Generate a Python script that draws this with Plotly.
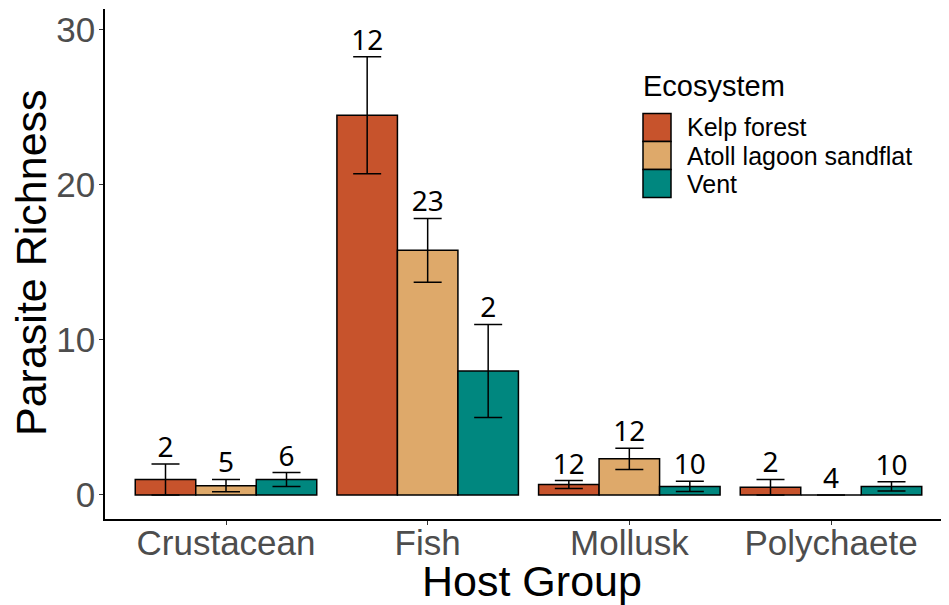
import plotly.graph_objects as go

host_groups = ["Crustacean", "Fish", "Mollusk", "Polychaete"]
ecosystems = ["Kelp forest", "Atoll lagoon sandflat", "Vent"]
colors = ["#C7532C", "#DEA96A", "#00877F"]

mean_kelp = [1.0, 24.5, 0.67, 0.5]
mean_atoll = [0.6, 15.78, 2.33, 0.0]
mean_vent = [1.0, 8.0, 0.55, 0.55]
se_kelp = [1.0, 3.77, 0.26, 0.5]
se_atoll = [0.4, 2.06, 0.68, 0.0]
se_vent = [0.45, 3.0, 0.33, 0.3]
n_kelp = [2, 12, 12, 2]
n_atoll = [5, 23, 12, 4]
n_vent = [6, 2, 10, 10]

means = [mean_kelp, mean_atoll, mean_vent]
ses = [se_kelp, se_atoll, se_vent]
ns = [n_kelp, n_atoll, n_vent]
offsets = [-0.3, 0.0, 0.3]

fig = go.Figure()
for k in range(3):
    xs = [i + offsets[k] for i in range(len(host_groups))]
    fig.add_trace(go.Bar(
        x=xs, y=means[k], width=0.3, name=ecosystems[k],
        marker=dict(color=colors[k], line=dict(color="black", width=1.5)),
        error_y=dict(type="data", array=ses[k], visible=True, color="black",
                     thickness=1.5, width=14),
        showlegend=False,
    ))
for k in range(3):
    xs = [i + offsets[k] for i in range(len(host_groups))]
    tops = [m + s for m, s in zip(means[k], ses[k])]
    fig.add_trace(go.Scatter(
        x=xs, y=tops, mode="text", text=[str(v) for v in ns[k]],
        textposition="top center",
        textfont=dict(family="Noto Sans", size=28, color="black"),
        showlegend=False, hoverinfo="skip",
    ))

OFF_X, OFF_Y = 6, 7
W, H = 947, 598
L, R, T, B = 97, 3, 1, 87
pw, ph = W - L - R, H - T - B

def px(x):
    return (x - OFF_X - L) / pw

def py(y):
    return (H - B - (y - OFF_Y)) / ph

shapes = []
annotations = [
    dict(x=px(639), y=py(84.5), xref="paper", yref="paper", text="Ecosystem",
         showarrow=False, xanchor="left", yanchor="middle",
         font=dict(family="Liberation Sans", size=29, color="black")),
    dict(x=px(530), y=py(580), xref="paper", yref="paper", text="Host Group",
         showarrow=False, xanchor="center", yanchor="middle",
         font=dict(family="Liberation Sans", size=43, color="black")),
    dict(x=px(29), y=py(262), xref="paper", yref="paper", text="Parasite Richness",
         showarrow=False, xanchor="center", yanchor="middle", textangle=-90,
         font=dict(family="Liberation Sans", size=43, color="black")),
]
row_top = 112.5
row_h = 28
for k in range(3):
    y0 = row_top + k * row_h
    shapes.append(dict(type="rect", xref="paper", yref="paper",
                       x0=px(641), x1=px(669), y0=py(y0), y1=py(y0 + row_h),
                       fillcolor=colors[k], line=dict(color="black", width=1.5)))
    annotations.append(dict(x=px(683), y=py(y0 + row_h / 2), xref="paper", yref="paper",
                            text=ecosystems[k], showarrow=False, xanchor="left",
                            yanchor="middle",
                            font=dict(family="Liberation Sans", size=25, color="black")))

fig.update_layout(
    width=W, height=H,
    margin=dict(l=L, r=R, t=T, b=B, autoexpand=False),
    plot_bgcolor="white", paper_bgcolor="white",
    barmode="overlay",
    shapes=shapes, annotations=annotations,
    font=dict(family="Liberation Sans"),
)
fig.update_xaxes(
    range=[-0.6, 3.6], tickvals=list(range(len(host_groups))), ticktext=host_groups,
    showline=True, linecolor="black", linewidth=1.5, showgrid=False, zeroline=False,
    ticks="outside", ticklen=4, tickcolor="#333333", tickwidth=1, automargin=False,
    ticklabelstandoff=-12,
    tickfont=dict(family="Liberation Sans", size=35, color="#4D4D4D"),
)
fig.update_yaxes(
    range=[-1.55, 31.35], tickvals=[0, 10, 20, 30],
    showline=True, linecolor="black", linewidth=1.5, showgrid=False, zeroline=False,
    ticks="outside", ticklen=4, tickcolor="#333333", tickwidth=1, automargin=False,
    ticklabelstandoff=-3,
    tickfont=dict(family="Liberation Sans", size=35, color="#4D4D4D"),
)

fig.write_html("out.html")
